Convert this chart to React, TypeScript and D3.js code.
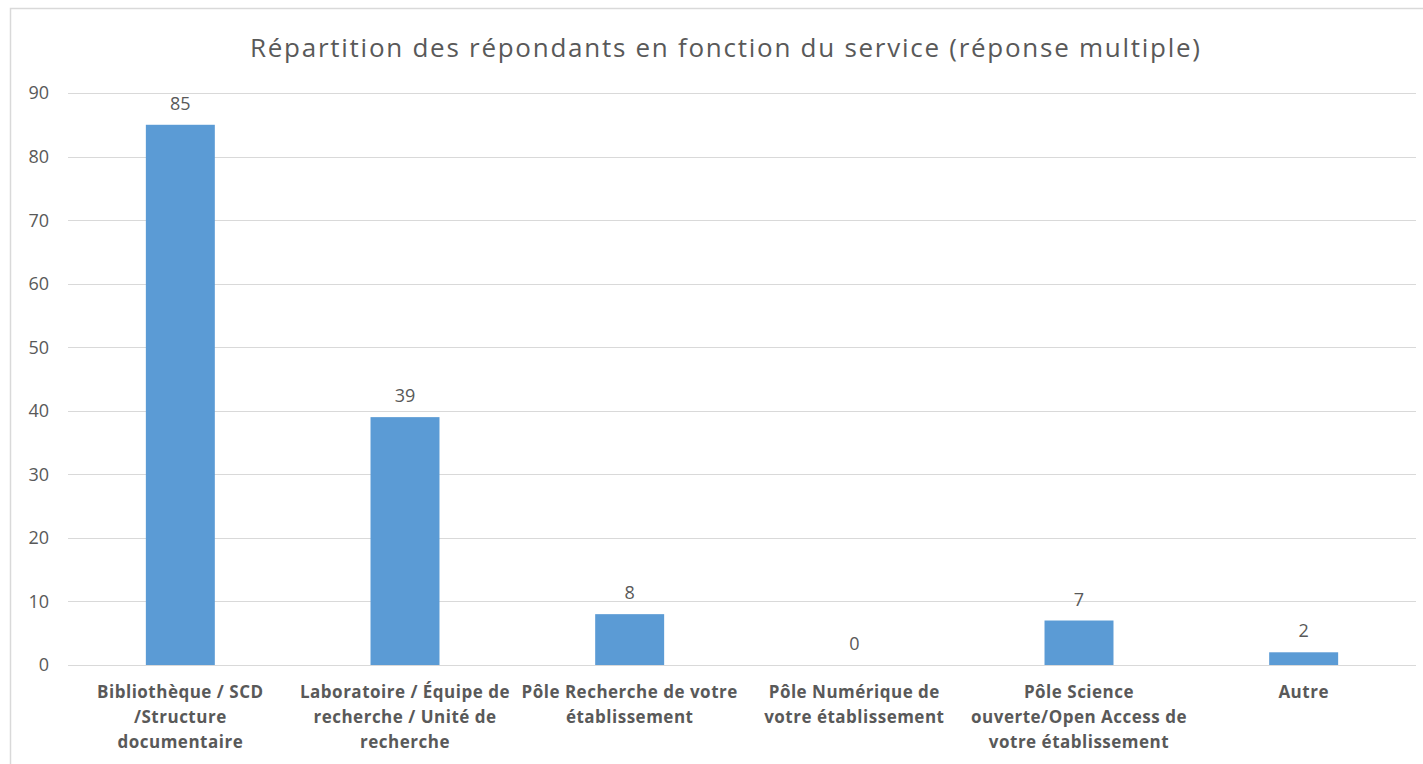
import { useEffect, useRef } from "react"
import * as d3 from "d3"

const categories = [
  ["Bibliothèque / SCD", "/Structure", "documentaire"],
  ["Laboratoire / Équipe de", "recherche / Unité de", "recherche"],
  ["Pôle Recherche de votre", "établissement"],
  ["Pôle Numérique de", "votre établissement"],
  ["Pôle Science", "ouverte/Open Access de", "votre établissement"],
  ["Autre"],
]
const values = [85, 39, 8, 0, 7, 2]
const yTicks = [0, 10, 20, 30, 40, 50, 60, 70, 80, 90]
const title = "Répartition des répondants en fonction du service (réponse multiple)"

const W = 1423, H = 764
const margin = { top: 93, right: 7, bottom: 99, left: 68 }
const font = "'Open Sans', Lato, sans-serif"
const grey = "#595959"

const App = () => {
  const ref = useRef<SVGSVGElement>(null)

  useEffect(() => {
    const svg = d3.select(ref.current)
    svg.selectAll("*").remove()

    const width = W - margin.left - margin.right
    const height = H - margin.top - margin.bottom

    const x = d3.scaleBand<number>()
      .domain(values.map((_, i) => i))
      .range([0, width])
      .paddingInner(0.693)
      .paddingOuter(0.3465)
    const y = d3.scaleLinear().domain([0, 90]).range([height, 0])

    // chart frame
    svg.append("path")
      .attr("d", `M10.5,${H} V8.5 H${W}`)
      .attr("fill", "none")
      .attr("stroke", "#d9d9d9")
      .attr("stroke-width", 1.5)

    svg.append("text")
      .attr("x", 725)
      .attr("y", 57)
      .attr("text-anchor", "middle")
      .attr("font-family", font)
      .attr("font-size", 26)
      .attr("textLength", 950)
      .attr("lengthAdjust", "spacing")
      .attr("fill", grey)
      .text(title)

    const g = svg.append("g")
      .attr("transform", `translate(${margin.left},${margin.top})`)

    // gridlines
    g.selectAll(".grid")
      .data(yTicks)
      .enter()
      .append("line")
      .attr("x1", 0)
      .attr("x2", width)
      .attr("y1", d => Math.round(y(d)) + 0.5)
      .attr("y2", d => Math.round(y(d)) + 0.5)
      .attr("stroke", "#d9d9d9")
      .attr("stroke-width", 1)

    // y tick labels
    g.selectAll(".ytick")
      .data(yTicks)
      .enter()
      .append("text")
      .attr("x", -19)
      .attr("y", d => y(d))
      .attr("dy", "0.36em")
      .attr("text-anchor", "end")
      .attr("font-family", font)
      .attr("font-size", 18)
      .attr("fill", grey)
      .text(d => d)

    // bars
    g.selectAll(".bar")
      .data(values)
      .enter()
      .append("rect")
      .attr("x", (_, i) => x(i)!)
      .attr("width", x.bandwidth())
      .attr("y", d => y(d))
      .attr("height", d => height - y(d))
      .attr("fill", "#5b9bd5")

    // value labels
    g.selectAll(".val")
      .data(values)
      .enter()
      .append("text")
      .attr("x", (_, i) => x(i)! + x.bandwidth() / 2)
      .attr("y", d => y(d) - 15)
      .attr("text-anchor", "middle")
      .attr("font-family", font)
      .attr("font-size", 18)
      .attr("fill", grey)
      .text(d => d)

    // category labels
    categories.forEach((lines, i) => {
      const cx = x(i)! + x.bandwidth() / 2
      const t = g.append("text")
        .attr("text-anchor", "middle")
        .attr("font-family", font)
        .attr("font-size", 17)
        .attr("font-weight", "bold")
        .attr("letter-spacing", 0.5)
        .attr("fill", grey)
      lines.forEach((line, j) => {
        t.append("tspan")
          .attr("x", cx)
          .attr("y", height + 33 + j * 25)
          .text(line)
      })
    })
  }, [])

  return (
    <svg ref={ref} width={W} height={H} style={{ position: "absolute", left: 0, top: 0, background: "#fff" }} />
  )
}

export default App
